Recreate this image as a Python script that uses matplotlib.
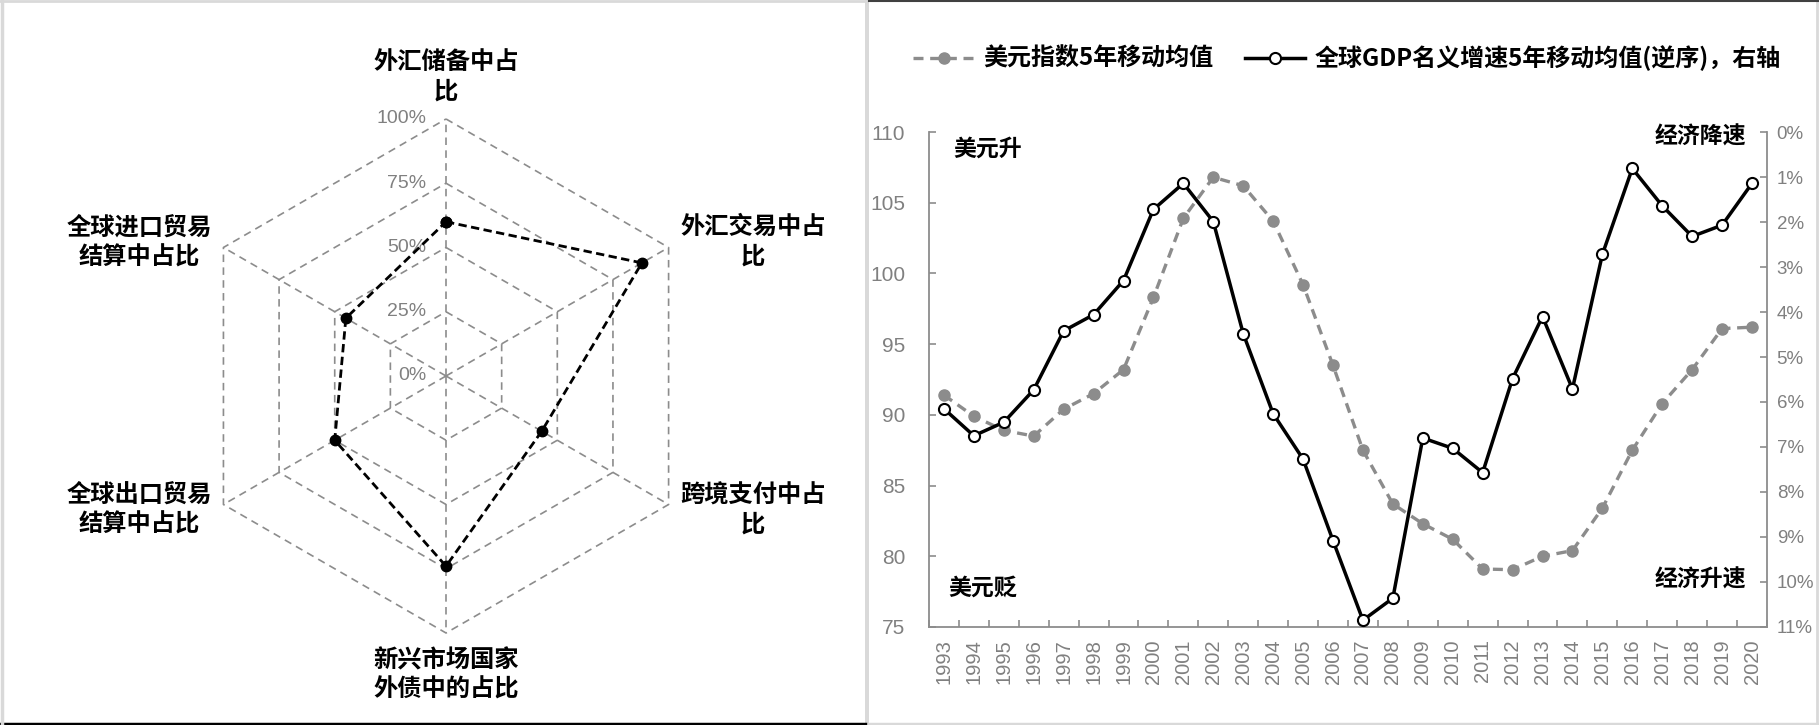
import numpy as np
import matplotlib
matplotlib.use("Agg")
import matplotlib.pyplot as plt
from matplotlib.lines import Line2D
from matplotlib.patches import Rectangle

plt.rcParams['font.family'] = ['Noto Sans CJK SC', 'DejaVu Sans']
num_font = ['Liberation Sans', 'DejaVu Sans']

# ---- radar data (share, %) ----
radar_labels = ['外汇储备中占\n比', '外汇交易中占\n比', '跨境支付中占\n比',
                '新兴市场国家\n外债中的占比', '全球出口贸易\n结算中占比', '全球进口贸易\n结算中占比']
radar_values = [60, 88, 43, 74, 50, 45]
ring_levels = [0, 25, 50, 75, 100]
ring_labels = ['0%', '25%', '50%', '75%', '100%']

# ---- line chart data ----
years = [str(y) for y in range(1993, 2021)]
dxy_5y = [91.4, 89.9, 88.9, 88.5, 90.4, 91.5, 93.2, 98.3, 103.9, 106.8,
          106.2, 103.7, 99.2, 93.5, 87.5, 83.7, 82.3, 81.2, 79.1, 79.05,
          80.0, 80.4, 83.4, 87.5, 90.8, 93.2, 96.1, 96.2]
gdp_5y = [6.15, 6.75, 6.45, 5.73, 4.42, 4.06, 3.3, 1.72, 1.14, 1.99,
          4.48, 6.26, 7.27, 9.08, 10.85, 10.36, 6.8, 7.03, 7.57, 5.48,
          4.1, 5.71, 2.72, 0.81, 1.64, 2.32, 2.07, 1.14]
left_ticks = [75, 80, 85, 90, 95, 100, 105, 110]
right_ticks = list(range(0, 12))

GRAY = '#8c8c8c'
TXT_GRAY = '#808080'

fig = plt.figure(figsize=(18.19, 7.25), dpi=100)

# ================= radar =================
axr = fig.add_axes([0.1039, 0.1269, 0.2826, 0.709], projection='polar')
axr.set_theta_zero_location('N')
axr.set_theta_direction(-1)
axr.set_ylim(0, 100)
axr.set_axis_off()

angles = np.linspace(0, 2 * np.pi, len(radar_values), endpoint=False)
closed = np.append(angles, angles[0])
for lv in ring_levels[1:]:
    axr.plot(closed, [lv] * len(closed), color=GRAY, lw=1.2, ls=(0, (4.5, 3.2)), clip_on=False)
for a in angles:
    axr.plot([a, a], [0, 100], color=GRAY, lw=1.2, ls=(0, (4.5, 3.2)), clip_on=False)
axr.plot(closed, radar_values + radar_values[:1], color='black', lw=2.0,
         ls=(0, (3, 1.6)), marker='o', ms=7.5, clip_on=False, zorder=5)

for lv, lab in zip(ring_levels, ring_labels):
    axr.annotate(lab, xy=(0, lv), xytext=(-14, 0), textcoords='offset points',
                 ha='right', va='center', color=TXT_GRAY, fontsize=14, family=num_font)

# label placement (deg clockwise from top, radius in % units)
label_theta = [0, 66.4, 113.6, 180, 246.5, 293.5]
label_r = [116.3, 130.3, 130.3, 116.3, 130.3, 130.3]
for lab, th, rr in zip(radar_labels, label_theta, label_r):
    axr.text(np.deg2rad(th), rr, lab, ha='center', va='center', fontsize=17.5,
             fontweight='bold', linespacing=1.3, clip_on=False)

# ================= line chart =================
ax = fig.add_axes([0.5107, 0.1352, 0.4607, 0.6827])
x = np.arange(len(years))
l1, = ax.plot(x, dxy_5y, color=GRAY, lw=2.4, ls=(0, (3, 2)), marker='o', ms=8,
              mfc=GRAY, mec=GRAY, label='美元指数5年移动均值', clip_on=False)
ax.set_xlim(-0.5, len(years) - 0.5)
ax.set_ylim(75, 110)
ax.set_yticks(left_ticks)
ax.set_xticks(x)
ax.set_xticklabels(years)
ax.set_xticks(np.arange(-0.5, len(years), 1), minor=True)

ax2 = ax.twinx()
l2, = ax2.plot(x, gdp_5y, color='black', lw=2.5, marker='o', ms=8, mfc='white',
               mec='black', mew=1.5, label='全球GDP名义增速5年移动均值(逆序)，右轴', clip_on=False)
ax2.set_ylim(11, 0)
ax2.set_yticks(right_ticks)
ax2.set_yticklabels([f'{v}%' for v in right_ticks])

for s in ['top', 'right']:
    ax.spines[s].set_visible(False)
for s in ['left', 'bottom']:
    ax.spines[s].set_color(GRAY)
    ax.spines[s].set_linewidth(1.3)
for s in ['top', 'left', 'bottom']:
    ax2.spines[s].set_visible(False)
ax2.spines['right'].set_color(GRAY)
ax2.spines['right'].set_linewidth(1.3)

ax.tick_params(axis='y', direction='in', length=5, width=1.2, color=GRAY,
               labelcolor=TXT_GRAY, labelsize=15, pad=17)
ax.tick_params(axis='x', which='major', length=0, labelrotation=90, pad=9,
               labelcolor=TXT_GRAY, labelsize=14.5)
ax.tick_params(axis='x', which='minor', direction='in', length=5, width=1.2, color=GRAY)
ax2.tick_params(axis='y', direction='in', length=5, width=1.2, color=GRAY,
                labelcolor=TXT_GRAY, labelsize=13.5, pad=7)
for lbl in ax.get_xticklabels() + ax.get_yticklabels() + ax2.get_yticklabels():
    lbl.set_fontfamily(num_font)

ax.text(0.07, 0.965, '美元升', transform=ax.transAxes, ha='center', va='center',
        fontsize=16.5, fontweight='bold')
ax.text(0.064, 0.079, '美元贬', transform=ax.transAxes, ha='center', va='center',
        fontsize=16.5, fontweight='bold')
ax.text(0.92, 0.99, '经济降速', transform=ax.transAxes, ha='center', va='center',
        fontsize=16.5, fontweight='bold')
ax.text(0.92, 0.095, '经济升速', transform=ax.transAxes, ha='center', va='center',
        fontsize=16.5, fontweight='bold')

fig.legend([l1, l2], [l1.get_label(), l2.get_label()], loc='center',
           bbox_to_anchor=(0.7405, 0.92), ncol=2, frameon=False,
           handlelength=2.5, handletextpad=0.4, columnspacing=1.3, borderaxespad=0,
           prop={'weight': 'bold', 'size': 17.3})

# ---- panel frames ----
fig.add_artist(Rectangle((0.4755, 0), 0.0022, 1, transform=fig.transFigure,
                         fc='#d9d9d9', ec='none'))
fig.add_artist(Line2D([0, 0.4755], [0.002, 0.002], transform=fig.transFigure, color='black', lw=2.5))
fig.add_artist(Line2D([0.4777, 1], [0.002, 0.002], transform=fig.transFigure, color='#d9d9d9', lw=2.5))
fig.add_artist(Line2D([0.001, 0.001], [0, 1], transform=fig.transFigure, color='#d9d9d9', lw=2.5))
fig.add_artist(Line2D([0.999, 0.999], [0, 1], transform=fig.transFigure, color='#d9d9d9', lw=2))
fig.add_artist(Line2D([0, 0.4755], [0.999, 0.999], transform=fig.transFigure, color='#d9d9d9', lw=2))
fig.add_artist(Line2D([0.4777, 1], [0.999, 0.999], transform=fig.transFigure, color='#404040', lw=1.5))

fig.savefig('out.png', dpi=100)
